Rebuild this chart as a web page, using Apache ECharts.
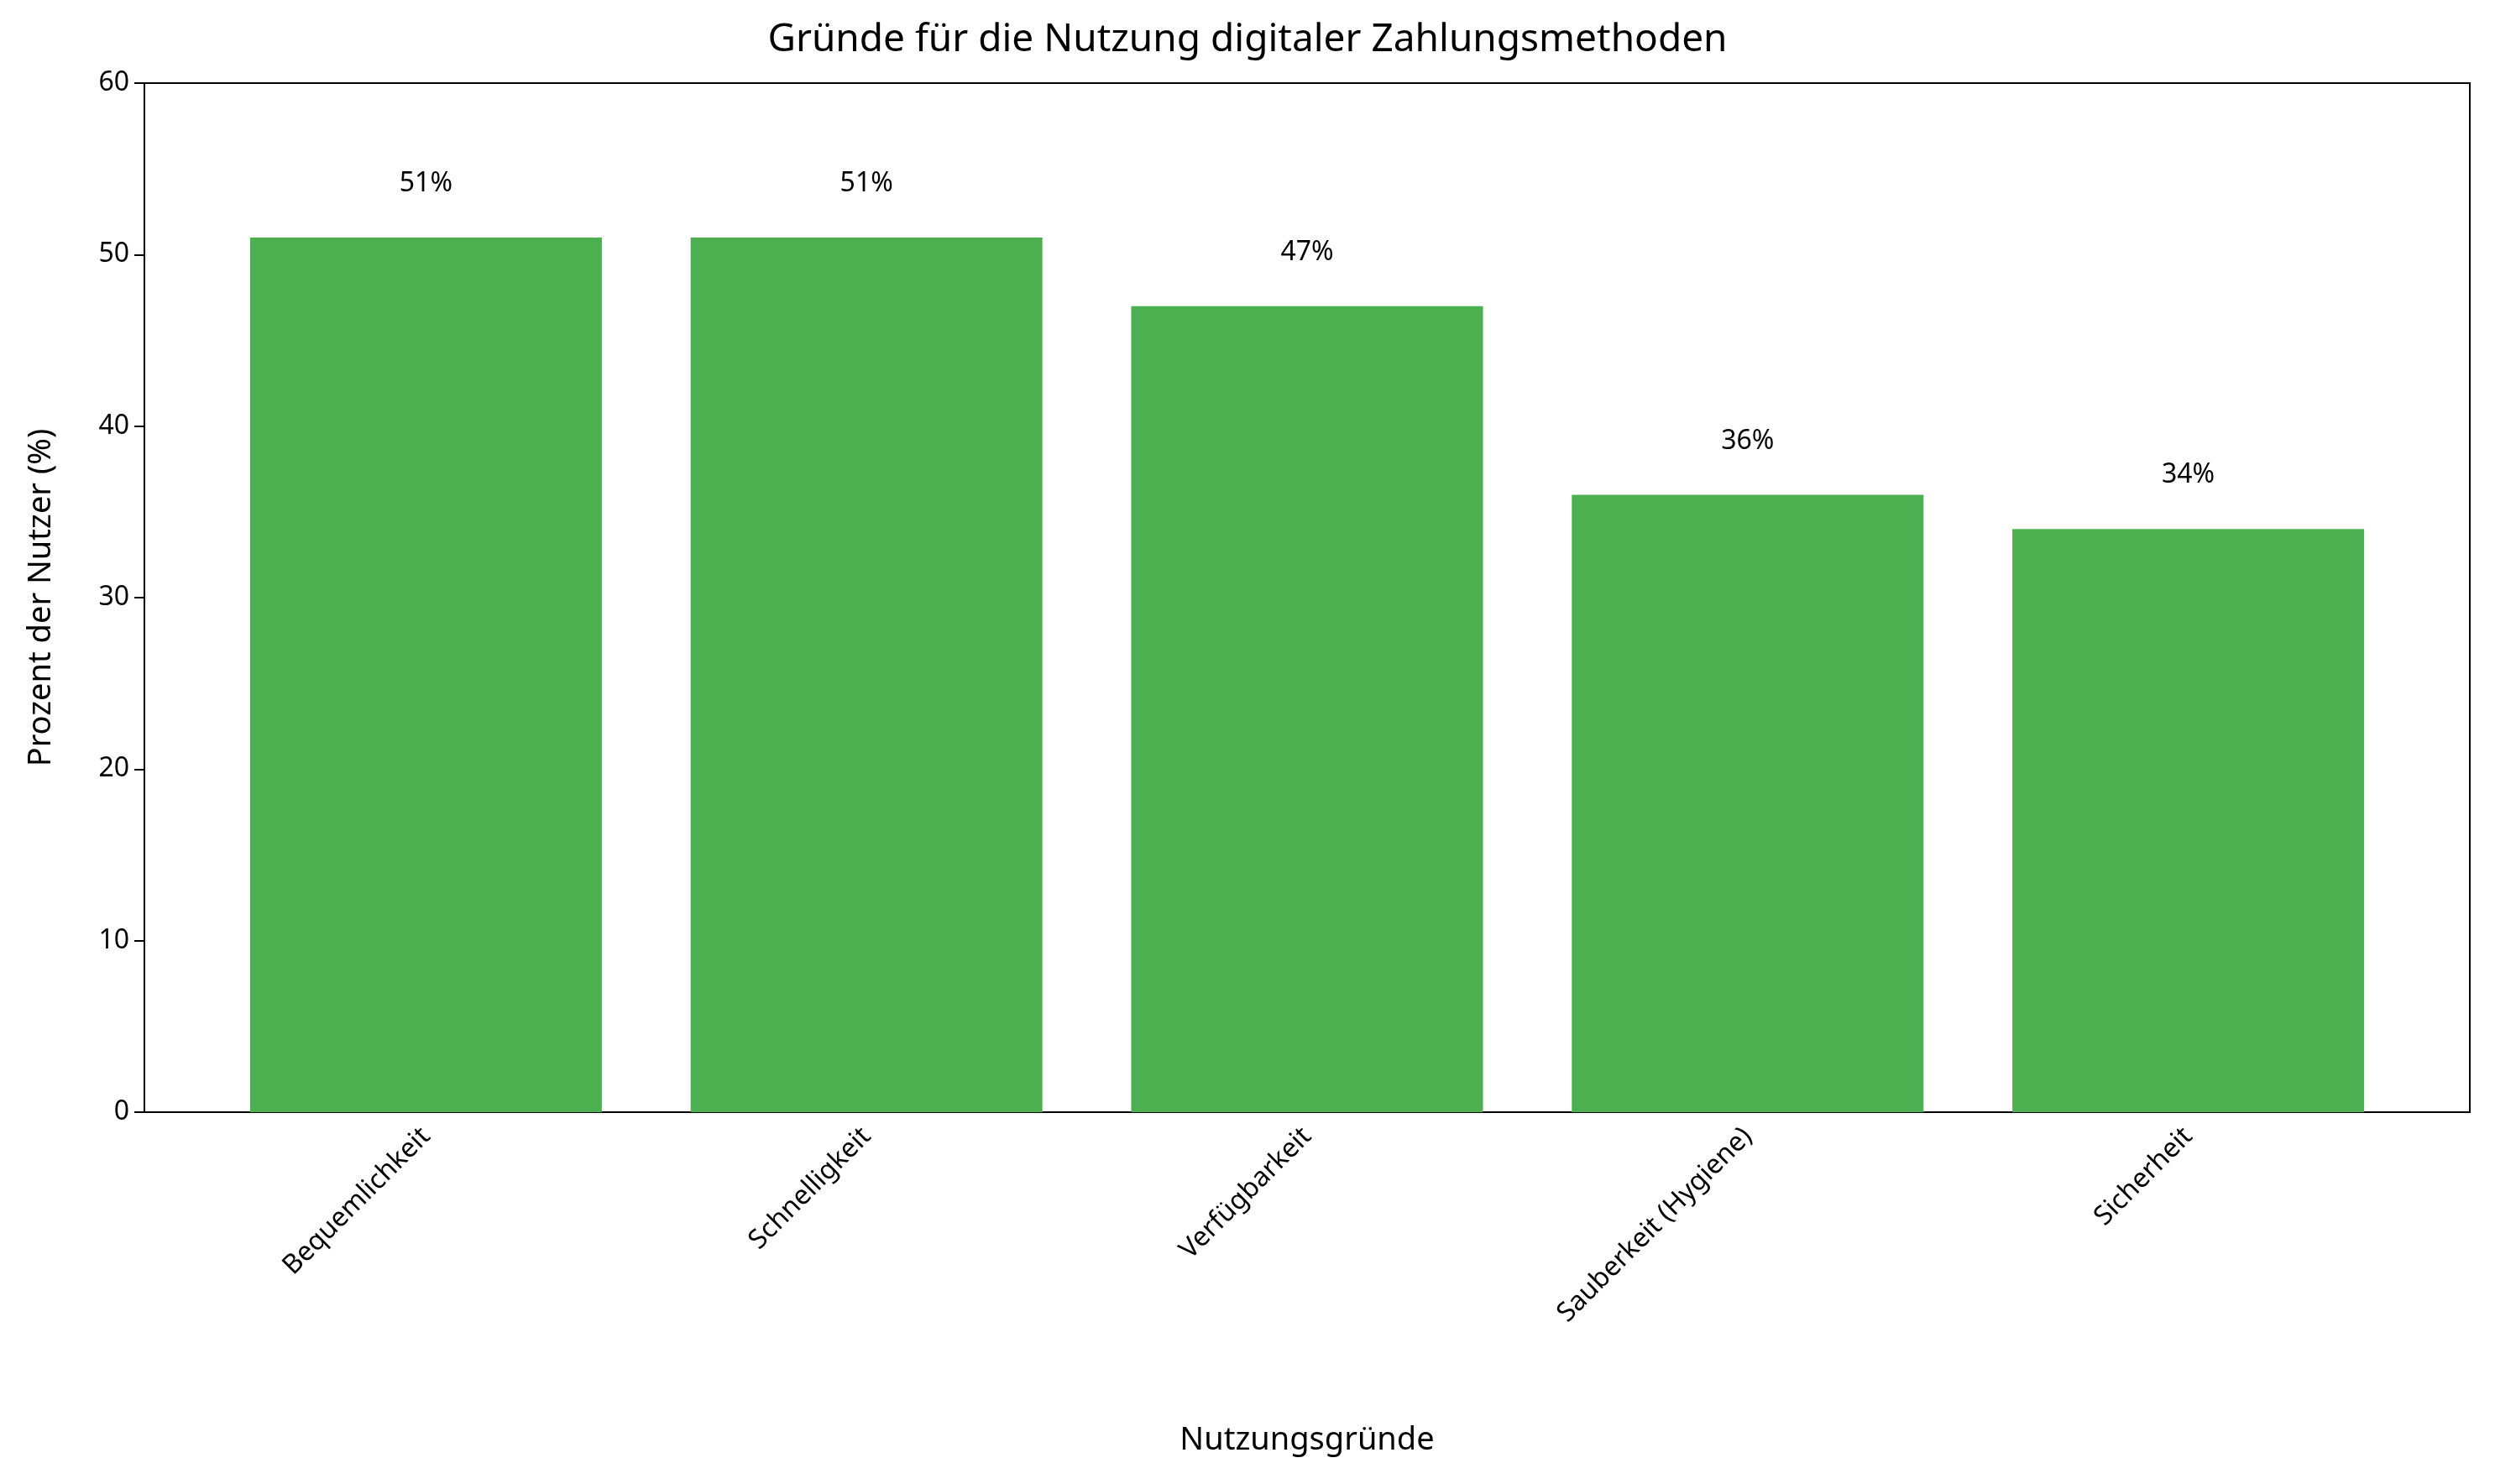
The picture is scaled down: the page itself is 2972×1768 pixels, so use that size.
<!DOCTYPE html>
<html><head><meta charset="utf-8">
<script src="https://cdn.jsdelivr.net/npm/echarts@6/dist/echarts.min.js"></script>
<style>html,body{margin:0;padding:0;background:#fff}#c{width:2972px;height:1768px}</style>
</head><body><div id="c"></div>
<script>
const categories = ["Bequemlichkeit","Schnelligkeit","Verfügbarkeit","Sauberkeit (Hygiene)","Sicherheit"];
const values = [51,51,47,36,34];
const yTicks = [0,10,20,30,40,50,60];
const F = "Noto Sans";
const chart = echarts.init(document.getElementById('c'));
chart.setOption({
  animation:false,
  textStyle:{fontFamily:F},
  title:{text:"Gründe für die Nutzung digitaler Zahlungsmethoden",left:'center',top:20,
    textStyle:{fontFamily:F,fontSize:46,fontWeight:'normal',color:'#000'}},
  grid:[
    {left:172,right:30,top:99,bottom:443,show:true,borderColor:'#000',borderWidth:2,backgroundColor:'transparent'},
    {left:245,right:103,top:99,bottom:443}
  ],
  xAxis:[
    {gridIndex:0,type:'value',min:0,max:1,show:false},
    {gridIndex:1,type:'category',data:categories,
    name:"Nutzungsgründe",nameLocation:'middle',nameGap:372,
    nameTextStyle:{fontFamily:F,fontSize:38,color:'#000'},
    axisLine:{show:false},
    axisTick:{alignWithLabel:true,length:12,lineStyle:{color:'#000',width:2}},
    axisLabel:{rotate:45,fontSize:32,color:'#000',margin:24,fontFamily:F}}
  ],
  yAxis:[
    {gridIndex:0,type:'value',min:yTicks[0],max:yTicks[yTicks.length-1],interval:10,
    name:"Prozent der Nutzer (%)",nameLocation:'middle',nameGap:104,
    nameTextStyle:{fontFamily:F,fontSize:38,color:'#000'},
    axisLine:{show:true,lineStyle:{color:'#000',width:2}},
    axisTick:{show:true,length:12,lineStyle:{color:'#000',width:2}},
    splitLine:{show:false},
    axisLabel:{fontSize:32,color:'#000',margin:18,fontFamily:F}},
    {gridIndex:1,type:'value',min:yTicks[0],max:yTicks[yTicks.length-1],show:false}
  ],
  series:[{type:'bar',xAxisIndex:1,yAxisIndex:1,data:values,barWidth:419,itemStyle:{color:'#4CAF50'},
    label:{show:true,position:'top',distance:48,formatter:'{c}%',fontSize:32,color:'#000',fontFamily:F}}]
});
</script></body></html>
